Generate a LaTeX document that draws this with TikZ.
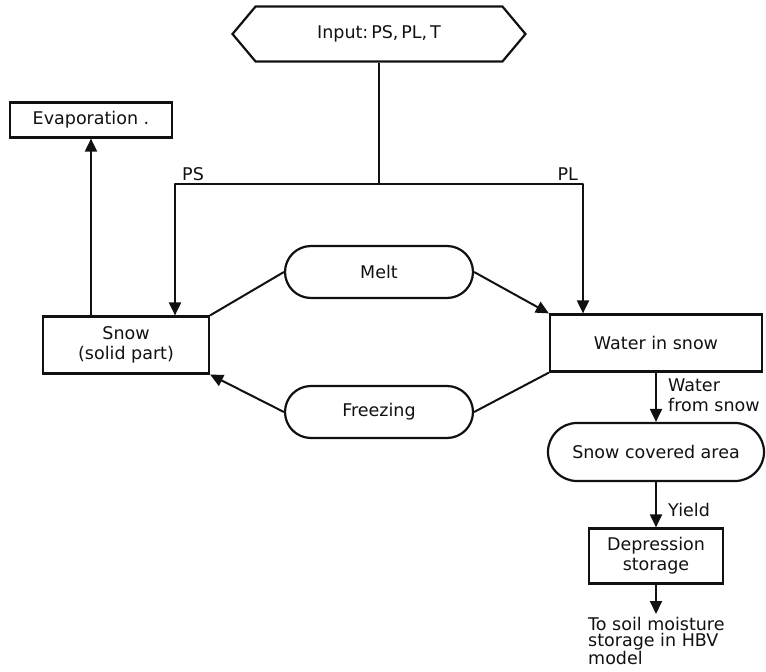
\documentclass[tikz,border=0pt]{standalone}
\usepackage{fontspec}
\setmainfont{DejaVu Sans}
\usepackage{tikz}
\usetikzlibrary{arrows.meta,shapes.symbols,shapes.misc}
\definecolor{ink}{HTML}{111111}
\tikzset{
  base/.style={draw=ink, line width=2pt, line join=round},
  arr/.style={base, -{Triangle[length=13pt,width=12pt]}},
  box/.style={draw=ink, line width=2.2pt, align=center, text=ink, font=\fontsize{17.5}{20}\selectfont, inner sep=0pt},
  pill/.style={box, rounded rectangle},
  hexa/.style={box, signal, signal to=west and east, signal pointer angle=100},
  lab/.style={text=ink, font=\fontsize{17.5}{20}\selectfont, inner sep=0pt, align=left},
}
\begin{document}
\begin{tikzpicture}[x=1pt,y=-1pt]
  \fill[white] (0,0) rectangle (766,672);
  \useasboundingbox (0,0) rectangle (766,672);

  % boxes
  \node[hexa, minimum width=293pt, minimum height=55pt] (inp) at (379,34) {Input:\,PS,\,PL,\,T};
  \node[box, minimum width=162pt, minimum height=35pt] (evap) at (91,120) {Evaporation .};
  \node[box, minimum width=166pt, minimum height=57pt] (snow) at (126,345) {Snow\\(solid part)};
  \node[box, minimum width=212pt, minimum height=57pt] (wat) at (656,343) {Water in snow};
  \node[pill, minimum width=188pt, minimum height=52pt] (melt) at (379,272) {Melt};
  \node[pill, minimum width=188pt, minimum height=52pt] (frz) at (379,412) {Freezing};
  \node[pill, minimum width=216pt, minimum height=58pt] (scov) at (656,452) {Snow covered area};
  \node[box, minimum width=134pt, minimum height=55pt] (dep) at (656,556) {Depression\\storage};

  \coordinate (ps) at (175,184);
  \coordinate (pl) at (583,184);
  \coordinate (out) at (656,614);

  % input split
  \draw[arr] (inp.south) |- (ps) -- (ps |- snow.north);
  \draw[arr] (inp.south) |- (pl) -- (pl |- wat.north);
  \node[lab, anchor=south west] (pslab) at (182,181) {PS};
  \node[lab, anchor=south east] (pllab) at (578,181) {PL};

  % snow exchange
  \draw[arr] (snow.north -| evap) -- (evap.south);
  \draw[base] (snow.north east) -- (melt.west);
  \draw[arr] (melt.east) -- (wat.north west);
  \draw[base] (wat.south west) -- (frz.east);
  \draw[arr] (frz.west) -- (snow.south east);

  % outflow
  \draw[arr] (wat.south) -- (scov.north);
  \node[lab, anchor=north west] (wfs) at (668,379) {Water\\from snow};
  \draw[arr] (scov.south) -- (dep.north);
  \node[lab, anchor=west] (yld) at (668,510) {Yield};
  \draw[arr] (dep.south) -- (out);
  \node[lab, anchor=north west, font=\fontsize{17.5}{16}\selectfont] (soil) at (588,617) {To soil moisture\\storage in HBV\\model};
\end{tikzpicture}
\end{document}
